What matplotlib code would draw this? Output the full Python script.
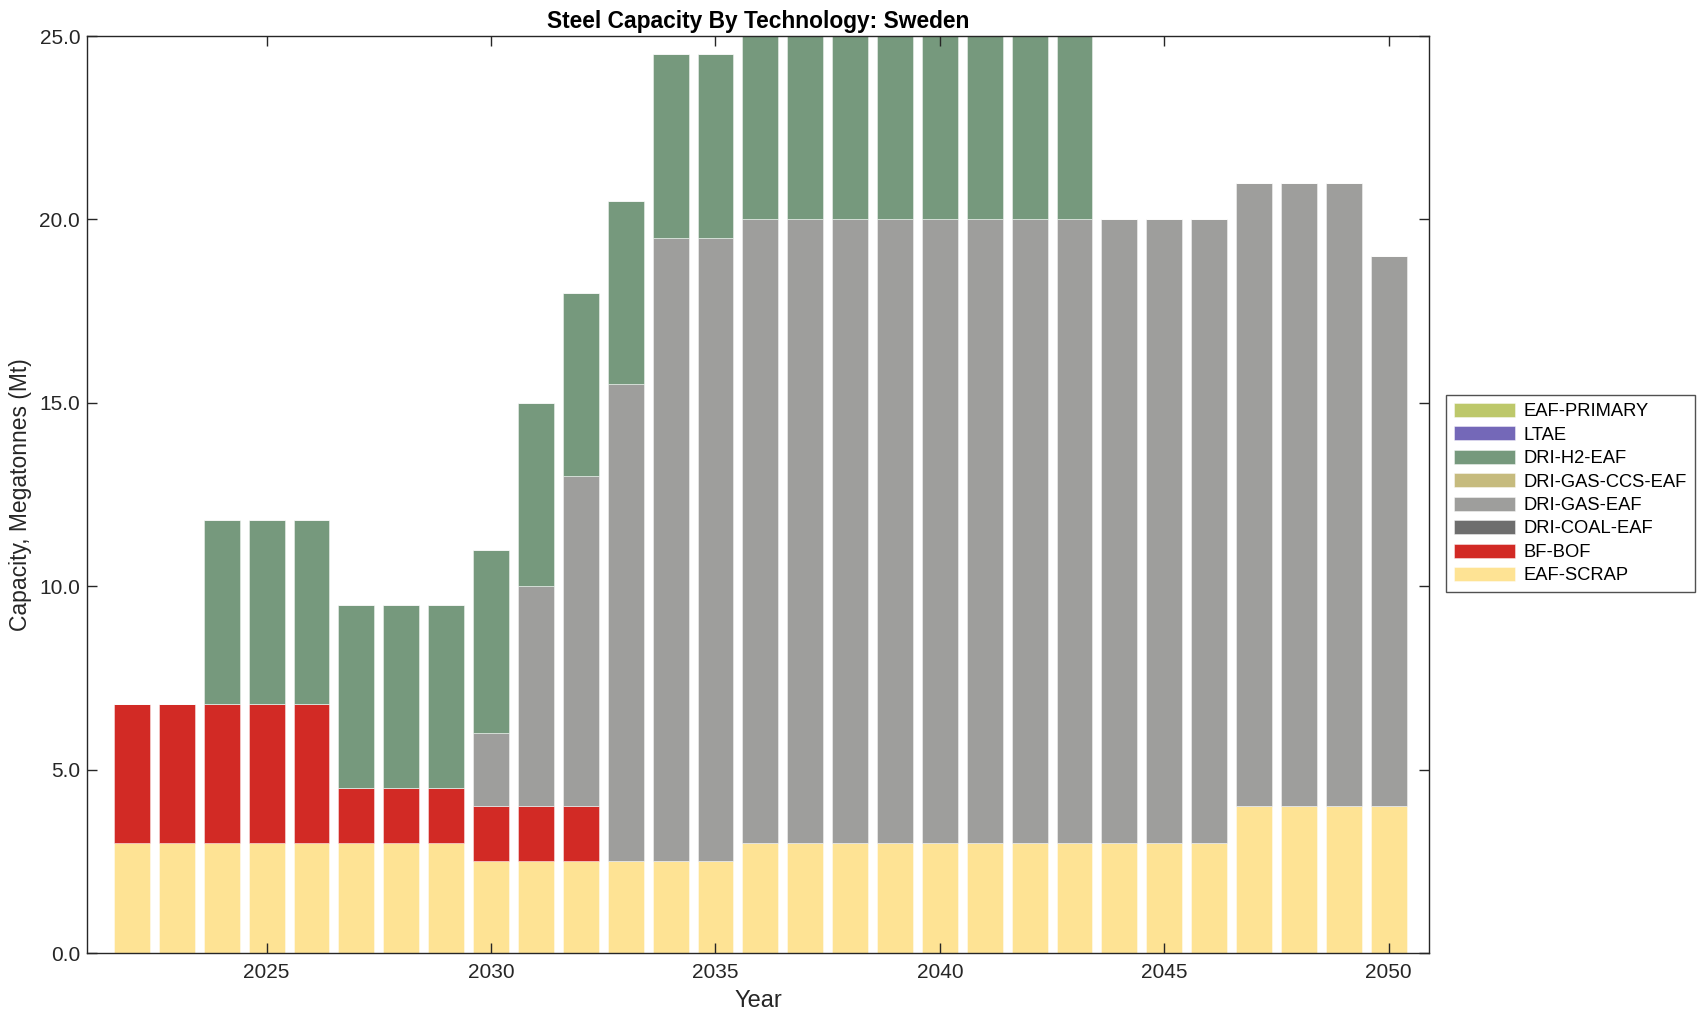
import matplotlib
matplotlib.use("Agg")
import matplotlib.pyplot as plt
import numpy as np

plt.rcParams['font.family'] = ['Liberation Sans', 'DejaVu Sans']

years = list(range(2022, 2051))

eaf_scrap = [3.0]*8 + [2.5]*6 + [3.0]*11 + [4.0]*4
bf_bof    = [3.8]*5 + [1.5]*3 + [1.5]*3 + [0.0]*18
dri_coal  = [0.0]*29
dri_gas   = [0.0]*8 + [2.0, 6.0, 9.0, 13.0, 17.0, 17.0] + [17.0]*8 + [17.0]*3 + [17.0]*3 + [15.0]
dri_gas_ccs = [0.0]*29
dri_h2    = [0.0]*2 + [5.0]*12 + [5.0]*8 + [0.0]*7
ltae      = [0.0]*29
eaf_primary = [0.0]*29

series = [
    ("EAF-SCRAP", eaf_scrap, "#FEE394"),
    ("BF-BOF", bf_bof, "#D22A25"),
    ("DRI-COAL-EAF", dri_coal, "#6E6E6E"),
    ("DRI-GAS-EAF", dri_gas, "#9E9E9C"),
    ("DRI-GAS-CCS-EAF", dri_gas_ccs, "#C6BB7E"),
    ("DRI-H2-EAF", dri_h2, "#76997D"),
    ("LTAE", ltae, "#7468B8"),
    ("EAF-PRIMARY", eaf_primary, "#BDC86A"),
]

fig = plt.figure(figsize=(17.08, 10.21), dpi=100)
ax = fig.add_axes([0.051, 0.0666, 0.7857, 0.8981])

bottom = np.zeros(len(years))
handles = []
for name, vals, col in series:
    v = np.array(vals, dtype=float)
    b = ax.bar(years, v, width=0.8, bottom=bottom, color=col,
               edgecolor=(1, 1, 1, 0.5), linewidth=0.6, label=name)
    handles.append(b)
    bottom += v

ax.set_xlim(2021.0, 2050.9)
ax.set_ylim(0, 25)
ax.set_xticks([2025, 2030, 2035, 2040, 2045, 2050])
ax.set_yticks([0, 5, 10, 15, 20, 25])
ax.set_yticklabels([f"{t:.1f}" for t in [0, 5, 10, 15, 20, 25]])
ax.tick_params(direction='in', top=True, right=True, labelsize=15, length=7, width=1, colors='#262626')
ax.tick_params(axis='x', pad=7)
ax.tick_params(axis='y', pad=5)
for s in ax.spines.values():
    s.set_color('#262626')
    s.set_linewidth(1.0)

ax.set_xlabel("Year", fontsize=17, color='#262626', labelpad=6)
ax.set_ylabel("Capacity, Megatonnes (Mt)", fontsize=16.5, color='#262626', labelpad=5)
ax.set_title("Steel Capacity By Technology: Sweden", fontsize=16.4, fontweight='bold', pad=6)

leg = fig.legend(handles[::-1], [s[0] for s in series][::-1], loc='center left',
                 bbox_to_anchor=(0.8415, 0.5165), fontsize=13.2, frameon=True,
                 fancybox=False, edgecolor='#262626', handlelength=3.3, handleheight=0.8,
                 labelspacing=0.33, borderpad=0.42, handletextpad=0.5)
leg.get_frame().set_linewidth(1.0)

fig.savefig("out.png", dpi=100)
